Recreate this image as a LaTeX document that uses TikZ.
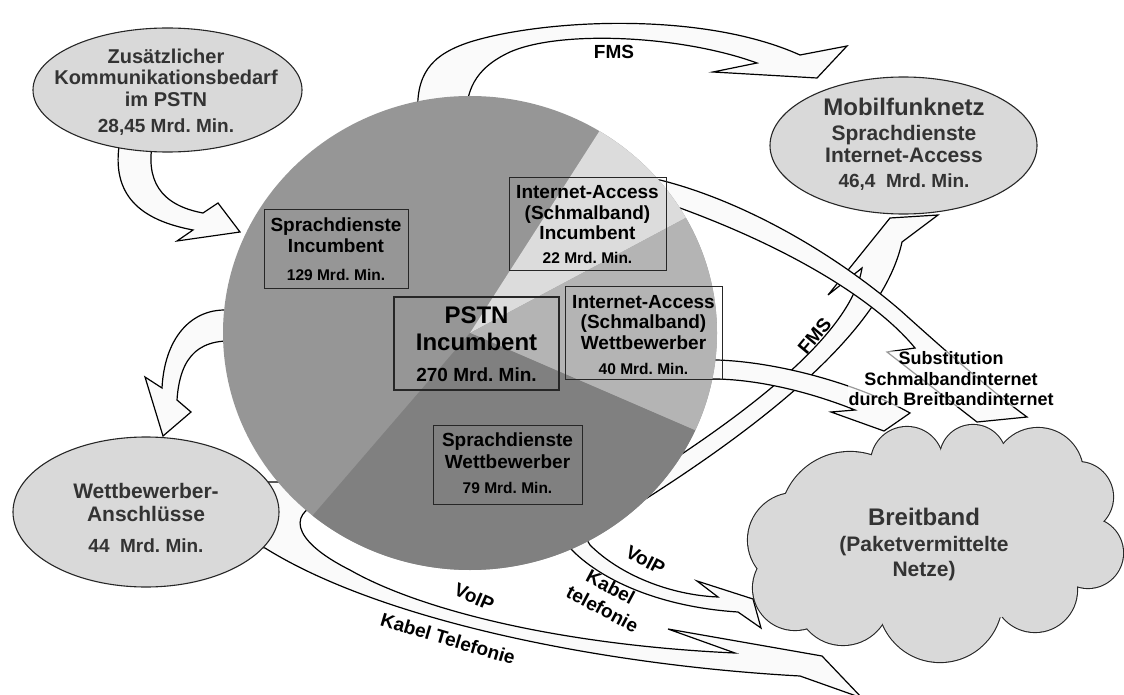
\documentclass[tikz,border=0pt]{standalone}
\usepackage{fontspec}
\setmainfont{Liberation Sans}
\usetikzlibrary{shapes.geometric}
\definecolor{ovalfill}{HTML}{D9D9D9}
\definecolor{ovaltext}{HTML}{333333}
\definecolor{sdinc}{HTML}{969696}
\definecolor{iainc}{HTML}{DCDCDC}
\definecolor{iawb}{HTML}{B4B4B4}
\definecolor{sdwb}{HTML}{808080}
\definecolor{arrowfill}{HTML}{FAFAFA}
\newcommand\myfs[1]{\fontsize{#1}{#1}\selectfont\bfseries\frenchspacing}
\begin{document}
\begin{tikzpicture}[x=1pt,y=-1pt,
  blockarrow/.style={draw=black,line width=1.2pt,fill=arrowfill,line join=miter,miter limit=8},
  bubble/.style={ellipse,draw=black!85,line width=1.1pt,fill=ovalfill,inner sep=0pt},
  piebox/.style={draw=black!85,line width=0.9pt,inner sep=0pt},
  txtline/.style={anchor=base,inner sep=0pt,outer sep=0pt,text height=0.72em,text depth=0.1em},
  ovaltxt/.style={txtline,text=ovaltext},
  lbl/.style={font=\myfs{19},inner sep=0pt,text=black,text height=0.72em,text depth=0.05em},
  cloudlobe/.style={fill=ovalfill}]
\useasboundingbox (0,0) rectangle (1124,695);
\begin{scope}
\clip (0,0) rectangle (1124,695);
% ---------- block arrows ----------
% Zusaetzlicher -> pie
\path[blockarrow] (120,140) .. controls (110,195) and (140,220) .. (193,230) -- (177,241) -- (240,232) -- (218,203) -- (203,213) .. controls (160,205) and (145,180) .. (153,140) -- cycle;
% FMS top
\path[blockarrow] (418,118) .. controls (415,75) and (430,55) .. (470,42) .. controls (540,20) and (700,10) .. (800,55) -- (847,46) -- (817,78) -- (713,72) -- (757,63) .. controls (680,35) and (560,30) .. (510,52) .. controls (480,66) and (466,85) .. (466,118) -- cycle;
% pie -> Wettbewerber
\path[blockarrow] (245,313) .. controls (200,300) and (165,330) .. (162,388) -- (145,377) -- (163,436) -- (191,412) -- (177,400) .. controls (180,355) and (200,336) .. (245,342) -- cycle;
% long bottom arrow (VoIP / Kabel Telefonie)
\path[blockarrow] (250,482) -- (330,482) -- (330,500) .. controls (285,510) and (290,540) .. (350,570) .. controls (420,610) and (560,645) .. (735,653) -- (668,629) -- (822,656) -- (862,698) -- (800,676) .. controls (600,665) and (380,620) .. (265,548) -- (250,545) -- cycle;
% short bottom arrow (VoIP / Kabel telefonie)
\path[blockarrow] (580,528) -- (590,545) .. controls (620,575) and (670,595) .. (718,597) -- (697,581) -- (753,599) -- (761,628) -- (738,612) .. controls (660,607) and (600,580) .. (570,548) -- (565,530) -- cycle;
% FMS right (pie -> Mobilfunknetz)
\path[blockarrow] (645,478) .. controls (760,405) and (852,330) .. (862,268) -- (828,295) -- (890,218) -- (938,215) -- (902,242) .. controls (885,320) and (790,410) .. (620,515) -- cycle;
% substitution arrow from Internet-Access Incumbent
\path[blockarrow] (640,180) -- (660,180) .. controls (740,200) and (830,250) .. (900,310) .. controls (950,355) and (990,390) .. (1027,417) -- (977,422) -- (887,352) -- (915,348) .. controls (880,305) and (800,252) .. (680,208) -- (662,205) -- cycle;
% substitution arrow from Internet-Access Wettbewerber
\path[blockarrow] (710,360) -- (717,360) .. controls (780,362) and (860,385) .. (910,413) -- (884,431) -- (831,412) -- (855,410) .. controls (810,392) and (760,380) .. (717,379) -- (710,379) -- cycle;
\end{scope}
% ---------- pie ----------
\fill[sdinc] (470,333) ellipse[x radius=247,y radius=237];
\fill[iainc] (470,333) -- ++(-58.4:247 and 237) arc[start angle=-58.4,end angle=-29.07,x radius=247,y radius=237] -- cycle;
\fill[iawb] (470,333) -- ++(-29.07:247 and 237) arc[start angle=-29.07,end angle=24.26,x radius=247,y radius=237] -- cycle;
\fill[sdwb] (470,333) -- ++(24.26:247 and 237) arc[start angle=24.26,end angle=129.59,x radius=247,y radius=237] -- cycle;
% boxes in the pie
\node[piebox,minimum width=144pt,minimum height=79pt] (sdincbox) at (336,248.5) {};
\node[piebox,minimum width=157pt,minimum height=93pt] (iaincbox) at (587.5,223.5) {};
\node[piebox,minimum width=157pt,minimum height=93pt] (iawbbox) at (643.5,332.5) {};
\node[piebox,line width=2.6pt,minimum width=165pt,minimum height=93pt] (pstnbox) at (476.5,343.5) {};
\node[piebox,minimum width=149pt,minimum height=79pt] (sdwbbox) at (507.5,464.5) {};
\node[txtline,font=\myfs{19}] (sdinc1) at (336,231) {Sprachdienste};
\node[txtline,font=\myfs{19}] (sdinc2) at (336,252) {Incumbent};
\node[txtline,font=\myfs{15.5}] (sdinc3) at (336,280) {129 Mrd. Min.};
\node[txtline,font=\myfs{19}] (iainc1) at (587.5,199) {Internet-Access};
\node[txtline,font=\myfs{19}] (iainc2) at (587.5,219) {(Schmalband)};
\node[txtline,font=\myfs{19}] (iainc3) at (587.5,240) {Incumbent};
\node[txtline,font=\myfs{15.5}] (iainc4) at (587.5,263) {22 Mrd. Min.};
\node[txtline,font=\myfs{19}] (iawb1) at (643.5,308) {Internet-Access};
\node[txtline,font=\myfs{19}] (iawb2) at (643.5,328) {(Schmalband)};
\node[txtline,font=\myfs{19}] (iawb3) at (643.5,349) {Wettbewerber};
\node[txtline,font=\myfs{15.5}] (iawb4) at (643.5,374) {40 Mrd. Min.};
\node[txtline,font=\myfs{24}] (pstn1) at (476.5,323) {PSTN};
\node[txtline,font=\myfs{24}] (pstn2) at (476.5,350) {Incumbent};
\node[txtline,font=\myfs{19}] (pstn3) at (476.5,381) {270 Mrd. Min.};
\node[txtline,font=\myfs{19}] (sdwb1) at (507.5,446) {Sprachdienste};
\node[txtline,font=\myfs{19}] (sdwb2) at (507.5,468) {Wettbewerber};
\node[txtline,font=\myfs{15.5}] (sdwb3) at (507.5,493) {79 Mrd. Min.};
% ---------- ellipses ----------
\node[bubble,minimum width=269pt,minimum height=124pt] (zus) at (167.5,90) {};
\node[ovaltxt,font=\myfs{20}] (zus1) at (166,64) {Zusätzlicher};
\node[ovaltxt,font=\myfs{20}] (zus2) at (166,85) {Kommunikationsbedarf};
\node[ovaltxt,font=\myfs{20}] (zus3) at (166,107) {im PSTN};
\node[ovaltxt,font=\myfs{19}] (zus4) at (166,132.5) {28,45 Mrd. Min.};
\node[bubble,minimum width=267pt,minimum height=137pt] (mobil) at (903.5,145.5) {};
\node[ovaltxt,font=\myfs{24}] (mobil1) at (904,116) {Mobilfunknetz};
\node[ovaltxt,font=\myfs{21}] (mobil2) at (904,141) {Sprachdienste};
\node[ovaltxt,font=\myfs{21}] (mobil3) at (904,163) {Internet-Access};
\node[ovaltxt,font=\myfs{19}] (mobil4) at (904,188) {46,4\ \ Mrd. Min.};
\node[bubble,minimum width=266pt,minimum height=150pt] (wett) at (146,512) {};
\node[ovaltxt,font=\myfs{21}] (wett1) at (146,498) {Wettbewerber-};
\node[ovaltxt,font=\myfs{21}] (wett2) at (146,521) {Anschlüsse};
\node[ovaltxt,font=\myfs{19}] (wett3) at (146,552) {44\ \ Mrd. Min.};
% ---------- cloud ----------
\begin{scope}
\foreach \cx/\cy/\r in {850/522/70,907/463/36,973/458/33,1038/473/45,1078/497/35,1088/553/35,1035/590/42,940/600/62,843/598/47,795/588/42,795/540/47}
  \filldraw[cloudlobe,draw=black!85,line width=2.2pt] (\cx,\cy) circle[radius=\r];
\fill[ovalfill] (936,545) ellipse[x radius=150,y radius=80];
\foreach \cx/\cy/\r in {850/522/70,907/463/36,973/458/33,1038/473/45,1078/497/35,1088/553/35,1035/590/42,940/600/62,843/598/47,795/588/42,795/540/47}
  \fill[cloudlobe] (\cx,\cy) circle[radius=\r];
\end{scope}
\node[ovaltxt,font=\myfs{24}] (breit1) at (924,525) {Breitband};
\node[ovaltxt,font=\myfs{21}] (breit2) at (924,551) {(Paketvermittelte};
\node[ovaltxt,font=\myfs{21}] (breit3) at (924,576) {Netze)};
% ---------- arrow labels ----------
\node[lbl] (fmstop) at (614,55) {FMS};
\node[lbl,rotate=50] (fmsright) at (817,338) {FMS};
\node[lbl,rotate=-28] (voip1) at (644,563) {VoIP};
\node[lbl,rotate=-28] (kabel1a) at (609,590) {Kabel};
\node[lbl,rotate=-28] (kabel1b) at (601,612) {telefonie};
\node[lbl,rotate=-23.5] (voip2) at (473,600) {VoIP};
\node[lbl,rotate=-16.5] (kabel2) at (447,642) {Kabel Telefonie};
\node[font=\myfs{18},align=center,fill=white,fill opacity=0.6,text opacity=1,inner sep=1pt] (subst) at (951,379) {Substitution\\[2.5pt]Schmalbandinternet\\[2.5pt]durch Breitbandinternet};
\end{tikzpicture}
\end{document}
